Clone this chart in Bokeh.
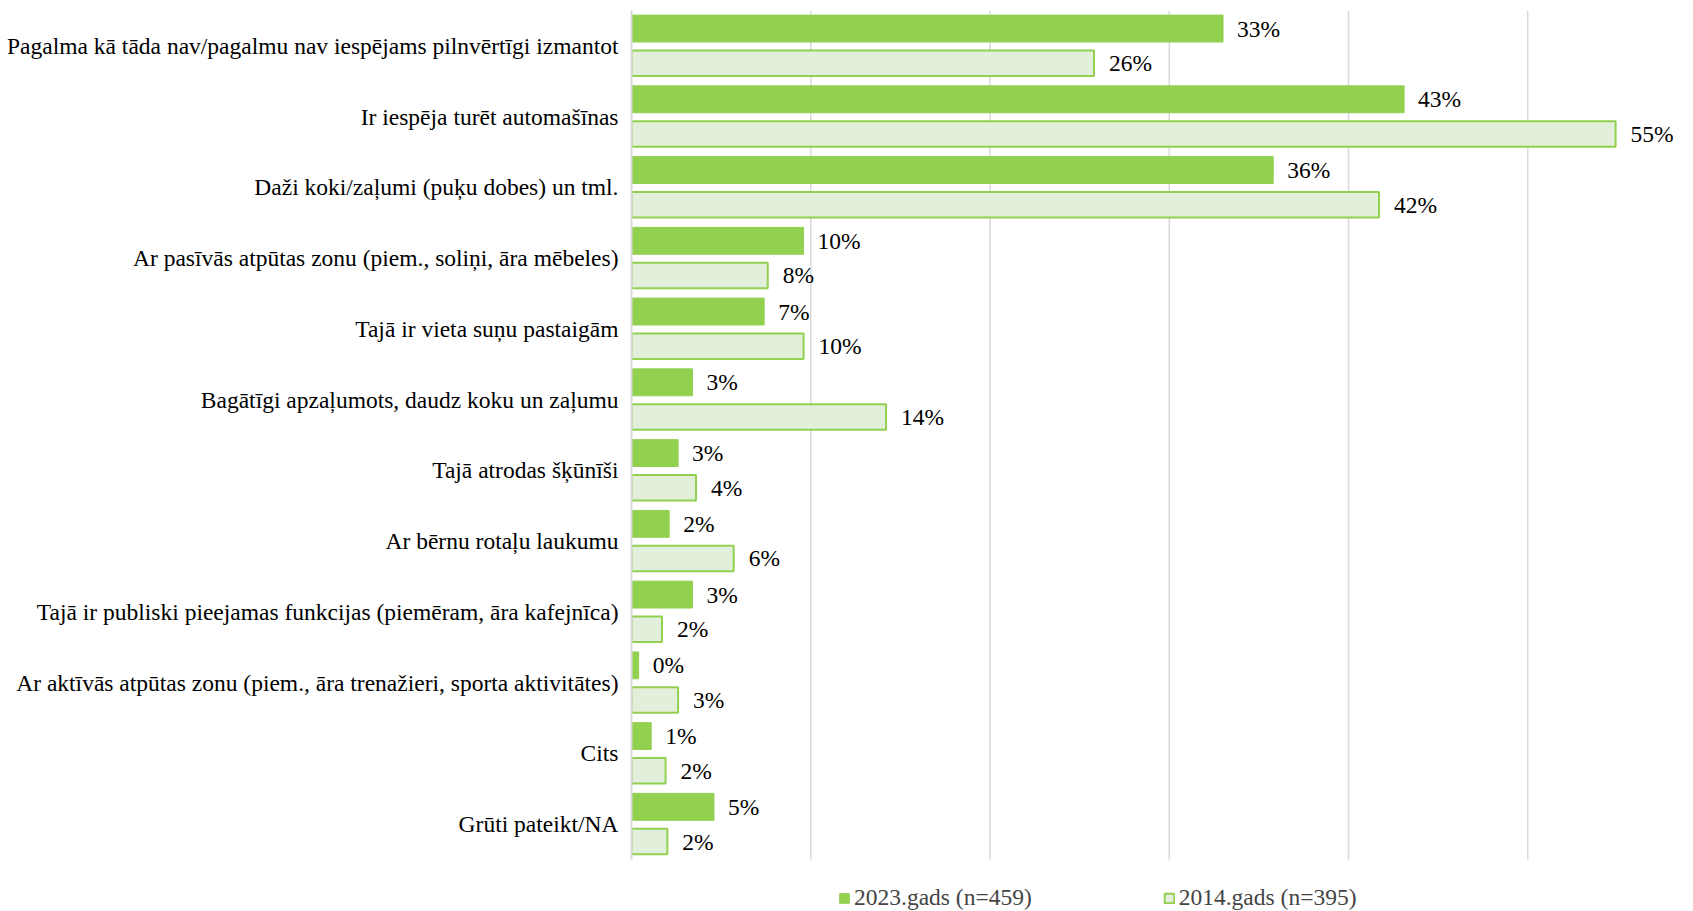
from bokeh.plotting import figure
from bokeh.models import ColumnDataSource, Range1d, FixedTicker, Legend, LegendItem
from bokeh.transform import dodge
from bokeh.core.properties import value
from bokeh.embed import file_html
from bokeh.resources import INLINE

categories = [
    "Pagalma kā tāda nav/pagalmu nav iespējams pilnvērtīgi izmantot",
    "Ir iespēja turēt automašīnas",
    "Daži koki/zaļumi (puķu dobes) un tml.",
    "Ar pasīvās atpūtas zonu (piem., soliņi, āra mēbeles)",
    "Tajā ir vieta suņu pastaigām",
    "Bagātīgi apzaļumots, daudz koku un zaļumu",
    "Tajā atrodas šķūnīši",
    "Ar bērnu rotaļu laukumu",
    "Tajā ir publiski pieejamas funkcijas (piemēram, āra kafejnīca)",
    "Ar aktīvās atpūtas zonu (piem., āra trenažieri, sporta aktivitātes)",
    "Cits",
    "Grūti pateikt/NA",
]
values_2023 = [33.0, 43.1, 35.8, 9.6, 7.4, 3.4, 2.6, 2.1, 3.4, 0.4, 1.1, 4.6]
values_2014 = [25.8, 54.9, 41.7, 7.6, 9.6, 14.2, 3.6, 5.7, 1.7, 2.6, 1.9, 2.0]
labels_2023 = ["33%", "43%", "36%", "10%", "7%", "3%", "3%", "2%", "3%", "0%", "1%", "5%"]
labels_2014 = ["26%", "55%", "42%", "8%", "10%", "14%", "4%", "6%", "2%", "3%", "2%", "2%"]
series_names = ["2023.gads (n=459)", "2014.gads (n=395)"]
grid_ticks = [10, 20, 30, 40, 50]

GREEN = "#92D050"
LIGHT = "#E2EFDA"
FONT = "'Liberation Serif'"
FS = "23.5px"

n = len(categories)
ypos = [n - 1 - i for i in range(n)]  # first category on top
lo, hi = -0.5, n - 0.5

src = ColumnDataSource(dict(cat=categories, y=ypos, v23=values_2023, v14=values_2014,
                            l23=labels_2023, l14=labels_2014))

p = figure(width=1690, height=910, output_backend="svg", toolbar_location=None,
           y_range=Range1d(lo - 0.72, hi), x_range=Range1d(0, 58.8),
           x_axis_location=None,
           min_border_left=631, min_border_right=5, min_border_top=10, min_border_bottom=0)
p.outline_line_color = None
p.grid.visible = False

# vertical gridlines at the tick values, spanning the category block
p.segment(x0=grid_ticks, x1=grid_ticks, y0=[lo] * len(grid_ticks), y1=[hi] * len(grid_ticks),
          line_color="#D9D9D9", line_width=1.5)

off = 0.245
h = 0.38
r23 = p.hbar(y=dodge("y", off), right="v23", left=0, height=h,
             fill_color=GREEN, line_color=GREEN, line_width=1, source=src)
r14 = p.hbar(y=dodge("y", -off), right="v14", left=0, height=h - 0.02,
             fill_color=LIGHT, line_color=GREEN, line_width=2, source=src)

p.text(x="v23", y=dodge("y", off), text="l23", x_offset=14,
       text_baseline="middle", text_font=value(FONT), text_font_size=FS,
       text_color="black", source=src)
p.text(x="v14", y=dodge("y", -off), text="l14", x_offset=15,
       text_baseline="middle", text_font=value(FONT), text_font_size=FS,
       text_color="black", source=src)

ax = p.yaxis[0]
ax.ticker = FixedTicker(ticks=ypos)
ax.major_label_overrides = {yv: c for yv, c in zip(ypos, categories)}
ax.bounds = (lo, hi)
ax.axis_line_color = "#D9D9D9"
ax.axis_line_width = 2
ax.major_tick_line_color = None
ax.minor_tick_line_color = None
ax.major_label_standoff = 7
ax.major_label_text_font = FONT
ax.major_label_text_font_size = FS
ax.major_label_text_color = "black"

legend = Legend(items=[LegendItem(label=series_names[0], renderers=[r23]),
                       LegendItem(label=series_names[1], renderers=[r14])],
                location=(207, -1), orientation="horizontal",
                padding=0, margin=0, spacing=131, label_standoff=4,
                glyph_width=12, glyph_height=12,
                label_text_font=FONT, label_text_font_size=FS,
                border_line_alpha=0, background_fill_alpha=0)
p.add_layout(legend, "center")

open("out.html", "w").write(file_html(p, INLINE))
